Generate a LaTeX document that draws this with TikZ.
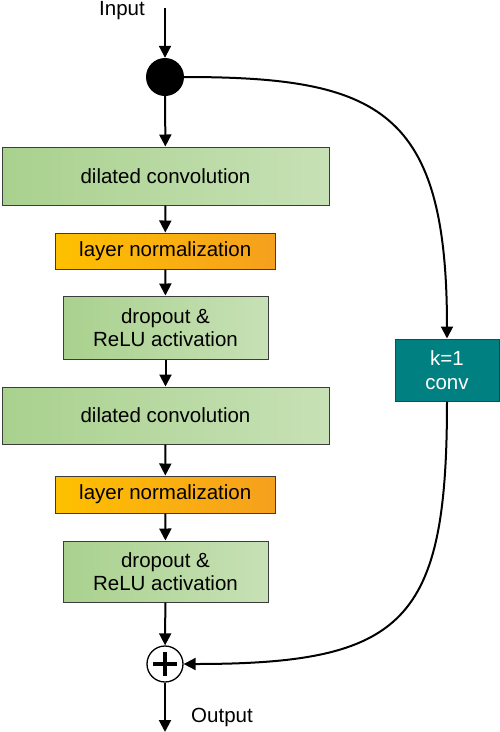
\documentclass[tikz,border=0pt]{standalone}
\usepackage{fontspec}
\setmainfont{Liberation Sans}
\usetikzlibrary{arrows.meta}
\definecolor{gL}{RGB}{169,209,142}
\definecolor{gR}{RGB}{199,225,182}
\definecolor{oL}{RGB}{255,192,0}
\definecolor{oR}{RGB}{245,160,30}
\definecolor{teal1}{RGB}{0,128,128}
\definecolor{edge}{RGB}{60,60,60}
\tikzset{
  txt/.style={font=\fontsize{20.5}{23.5}\selectfont},
  greenbox/.style={txt, draw=edge, line width=1pt, left color=gL, right color=gR, align=center, inner sep=0pt},
  orangebox/.style={txt, draw=edge, line width=1pt, left color=oL, right color=oR, align=center, inner sep=0pt},
  tealbox/.style={txt, draw=edge, line width=1pt, fill=teal1, text=white, align=center, inner sep=0pt},
  arr/.style={line width=2pt, -{Triangle[length=12pt,width=12pt]}},
}
\begin{document}
\begin{tikzpicture}[x=1pt,y=-1pt]
\useasboundingbox (0,0) rectangle (500,732);
% nodes
\node[txt, anchor=base] (in) at (122,15) {Input};
\coordinate (instart) at (165,8);
\node[circle, fill=black, minimum size=38pt, inner sep=0pt] (dot) at (165,77) {};
\node[greenbox, minimum width=327pt, minimum height=58pt] (b1) at (165.5,176) {dilated convolution};
\node[orangebox, minimum width=220.5pt, minimum height=36pt] (b2) at (165.25,251) {layer normalization};
\node[greenbox, minimum width=205pt, minimum height=63pt] (b3) at (165.5,327.5) {dropout \&\\ReLU activation};
\node[greenbox, minimum width=327pt, minimum height=57pt] (b4) at (165.5,415.5) {dilated convolution};
\node[orangebox, minimum width=220.5pt, minimum height=37pt] (b5) at (165.25,494.5) {layer normalization};
\node[greenbox, minimum width=205pt, minimum height=61pt] (b6) at (165.5,571.5) {dropout \&\\ReLU activation};
\node[tealbox, minimum width=104pt, minimum height=62pt] (k) at (447,370) {k=1\\conv};
\node[circle, draw=black, line width=1.3pt, fill=white, minimum size=36pt, inner sep=0pt] (plus) at (165,664) {};
\draw[line width=3.5pt] ([xshift=-12pt]plus.center) -- ([xshift=12pt]plus.center);
\draw[line width=3.5pt] ([yshift=-12pt]plus.center) -- ([yshift=12pt]plus.center);
\coordinate (outend) at (165,732);
\node[txt, anchor=base] (out) at (222,722) {Output};
% connectors
\draw[arr] (instart) -- (dot);
\draw[arr] (dot) -- (b1);
\draw[arr] (b1) -- (b2);
\draw[arr] (b2) -- (b3);
\draw[arr] (b3) -- (b4);
\draw[arr] (b4) -- (b5);
\draw[arr] (b5) -- (b6);
\draw[arr] (b6) -- (plus);
\draw[arr] (plus) -- (outend);
\draw[arr] (dot.east) .. controls (380,77) and (447,110) .. (k.north);
\draw[arr] (k.south) .. controls (447,622) and (405,664) .. (plus.east);
\end{tikzpicture}
\end{document}
